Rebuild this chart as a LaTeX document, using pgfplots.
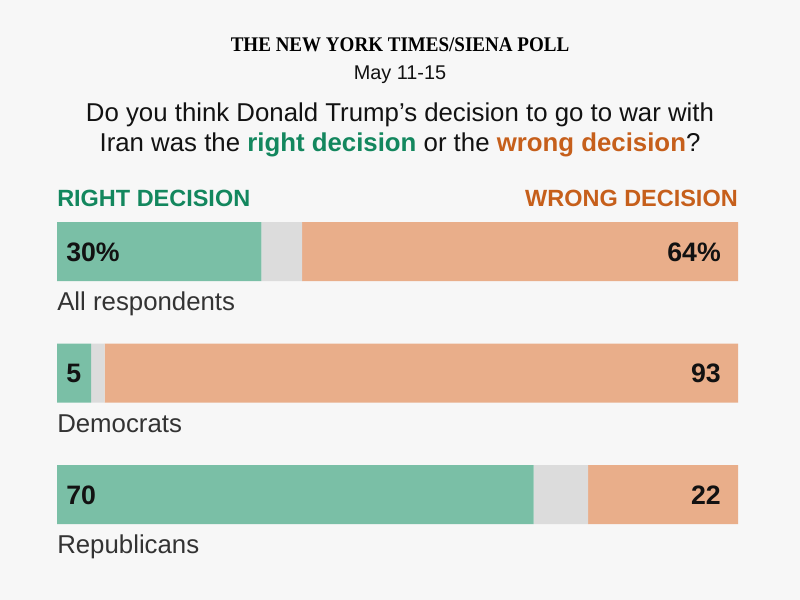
\documentclass[border=0pt]{standalone}
\usepackage{graphicx}
\usepackage{pgfplots}
\pgfplotsset{compat=1.18}
\usepackage{pgfplotstable}
\usepackage{fontspec}
\setmainfont{Liberation Sans}
\newfontfamily\headserif{Liberation Serif}

\definecolor{bg}{HTML}{F7F7F7}
\definecolor{rightbar}{HTML}{7ABFA6}
\definecolor{wrongbar}{HTML}{E9AE8A}
\definecolor{nobar}{HTML}{DCDCDC}
\definecolor{righttext}{HTML}{13875E}
\definecolor{wrongtext}{HTML}{C65F1B}
\definecolor{numtext}{HTML}{121212}
\definecolor{cattext}{HTML}{333333}

% share of respondents: right decision / no answer / wrong decision
\pgfplotstableread{
row right unsure wrong
0   30    6      64
1   5     2      93
2   70    8      22
}\polldata

\newcommand\numfont{\fontsize{20}{23}\selectfont\bfseries}
\newcommand\catfont{\fontsize{19.35}{23}\selectfont}

\begin{document}
\begin{tikzpicture}[x=0.75pt,y=0.75pt]
\fill[bg] (0,0) rectangle (800,600);
\coordinate (plotorigin) at (57,44.75);

% heading
\node[anchor=base, inner sep=0] at (400,548)
  {\scalebox{0.915}[1]{\fontsize{15.6}{18}\selectfont\headserif\bfseries THE NEW YORK TIMES/SIENA POLL}};
\node[anchor=base, inner sep=0, font=\fontsize{14.9}{18}\selectfont, text=numtext] at (400,520) {May 11-15};
\node[anchor=base, inner sep=0, font=\fontsize{19.35}{23}\selectfont, text=numtext] at (400,478)
  {Do you think Donald Trump’s decision to go to war with};
\node[anchor=base, inner sep=0, font=\fontsize{19.35}{23}\selectfont, text=numtext] at (400,448)
  {Iran was the \textbf{\color{righttext}right decision} or the \textbf{\color{wrongtext}wrong decision}?};

% column headers
\node[anchor=base west, inner sep=0, font=\fontsize{17.6}{21}\selectfont\bfseries, text=righttext] at (57,393) {RIGHT DECISION};
\node[anchor=base east, inner sep=0, font=\fontsize{17.6}{21}\selectfont\bfseries, text=wrongtext] at (738,393) {WRONG DECISION};

\begin{axis}[
  at={(plotorigin)}, anchor=south west,
  scale only axis,
  width=510.75pt, height=273.375pt,
  xmin=0, xmax=100,
  ymin=-0.5, ymax=2.5,
  y dir=reverse,
  axis lines=none,
  xtick=\empty, ytick=\empty,
  xbar stacked,
  bar width=44.25pt,
  clip=false,
]
\addplot[fill=rightbar, draw=none] table[x=right, y=row] {\polldata};
\addplot[fill=nobar, draw=none] table[x=unsure, y=row] {\polldata};
\addplot[fill=wrongbar, draw=none] table[x=wrong, y=row] {\polldata};

% anchors at the two ends of each bar row
\coordinate (L0) at (axis cs:0,0);   \coordinate (R0) at (axis cs:100,0);
\coordinate (L1) at (axis cs:0,1);   \coordinate (R1) at (axis cs:100,1);
\coordinate (L2) at (axis cs:0,2);   \coordinate (R2) at (axis cs:100,2);
\end{axis}

% values inside the bars
\begin{scope}[every node/.style={inner sep=0, font=\numfont, text=numtext}]
\node[anchor=base west, xshift=6.75pt, yshift=-7.2pt] at (L0) {30\%};
\node[anchor=base east, xshift=-12.75pt, yshift=-7.2pt] at (R0) {64\%};
\node[anchor=base west, xshift=6.75pt, yshift=-7.2pt] at (L1) {5};
\node[anchor=base east, xshift=-12.75pt, yshift=-7.2pt] at (R1) {93};
\node[anchor=base west, xshift=6.75pt, yshift=-7.2pt] at (L2) {70};
\node[anchor=base east, xshift=-12.75pt, yshift=-7.2pt] at (R2) {22};
\end{scope}

% group names under the bars
\begin{scope}[every node/.style={inner sep=0, font=\catfont, text=cattext, anchor=base west, yshift=-44.6pt}]
\node at (L0) {All respondents};
\node at (L1) {Democrats};
\node at (L2) {Republicans};
\end{scope}
\end{tikzpicture}
\end{document}
